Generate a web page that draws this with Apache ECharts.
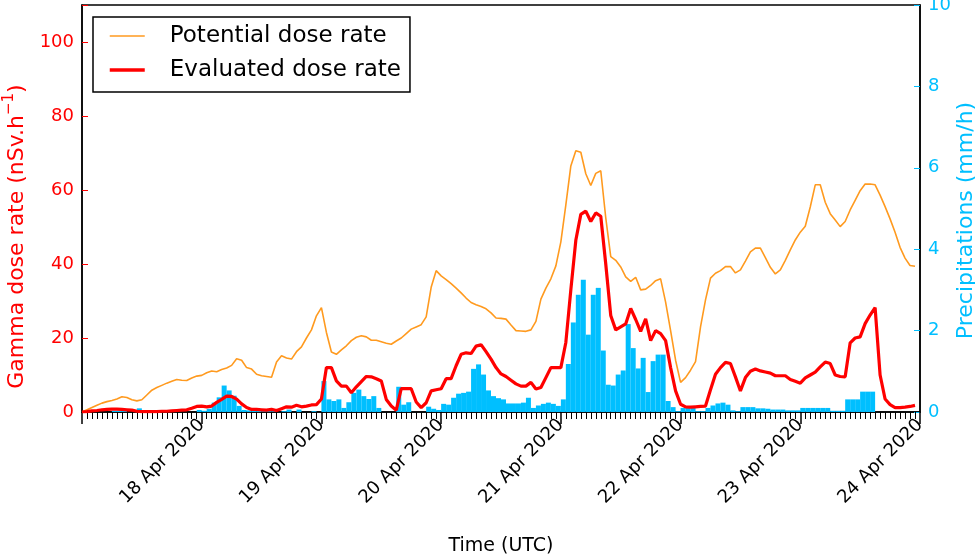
<!DOCTYPE html>
<html><head><meta charset="utf-8">
<script src="https://cdn.jsdelivr.net/npm/echarts@6/dist/echarts.min.js"></script>
<style>html,body{margin:0;padding:0;background:#fff}#c{width:975px;height:556px}</style>
</head><body><div id="c"></div>
<script>
// x ticks every 24 h starting 17 Apr 2020 00:00 UTC
const dayLabels = ['', '18 Apr 2020', '19 Apr 2020', '20 Apr 2020', '21 Apr 2020', '22 Apr 2020', '23 Apr 2020', '24 Apr 2020'];

// hourly values (nSv/h), hour 0 = 17 Apr 2020 00:00 UTC
const potential = [
  0,0.6,1.2,1.8,2.4,2.8,3.1,3.5,4.1,3.9,3.3,3.0,3.3,4.6,5.9,6.6,7.2,7.8,8.3,8.8,8.6,8.5,9.2,9.7,
  9.9,10.6,11.1,10.9,11.5,11.9,12.6,14.4,14.0,12.0,11.6,10.2,9.8,9.6,9.4,13.5,15.2,14.6,14.3,16.3,17.6,20.0,22.2,26.0,
  28.2,21.5,16.2,15.6,16.8,17.9,19.3,20.2,20.6,20.3,19.4,19.4,19.0,18.6,18.3,19.2,20.0,21.2,22.4,23.0,23.6,25.7,33.7,38.2,
  36.8,35.8,34.7,33.5,32.2,30.8,29.6,29.0,28.5,27.9,26.8,25.4,25.3,25.1,23.5,22.0,21.9,21.8,22.2,24.5,30.5,33.5,36.0,39.5,
  46.0,56.0,66.5,70.6,70.2,64.4,61.2,64.5,65.2,52.5,42.0,41.0,39.2,36.5,35.3,36.4,33.0,33.2,34.2,35.5,36.0,29.7,22.0,14.0,
  8.0,9.3,11.3,13.6,23.0,30.3,36.2,37.5,38.2,39.3,39.3,37.6,38.4,40.8,43.3,44.3,44.3,41.7,39.1,37.3,38.4,41.0,43.8,46.5,
  48.6,50.2,55.4,61.4,61.4,56.7,53.6,51.9,50.1,51.5,54.6,57.2,59.8,61.6,61.6,61.4,58.6,55.5,52.2,48.6,44.5,41.6,39.6,39.4
];
const evaluated = [
  0,0.1,0.3,0.4,0.6,0.7,0.8,0.8,0.7,0.6,0.5,0.2,0.1,0.1,0.1,0.1,0.2,0.2,0.3,0.4,0.5,0.6,1.0,1.5,
  1.6,1.4,1.6,2.6,3.4,4.3,4.2,3.5,2.2,1.2,0.7,0.7,0.6,0.5,0.7,0.4,0.9,1.4,1.3,1.8,1.4,1.6,1.9,2.0,
  3.5,12.0,12.0,8.4,7.0,7.0,5.2,6.8,8.2,9.6,9.5,9.0,8.4,3.4,1.6,0.5,6.3,6.3,6.3,2.7,1.2,2.5,5.7,6.0,
  6.3,9.0,9.0,12.5,15.6,16.0,15.8,17.8,18.2,16.3,14.3,12.0,10.3,9.6,8.6,7.6,7.0,7.0,8.0,6.2,6.6,9.3,12.0,12.0,
  12.0,18.8,33.0,46.4,53.4,54.3,51.5,53.8,52.9,40.0,26.1,22.2,23.0,23.8,28.0,25.0,21.8,25.2,19.3,22.0,21.2,19.3,12.0,5.7,
  2.1,1.4,1.3,1.4,1.5,1.6,6.0,10.2,12.0,13.4,13.1,9.5,5.7,9.3,11.0,11.6,11.1,10.8,10.5,9.8,9.8,9.8,8.8,8.3,
  7.8,9.2,10.0,10.8,12.2,13.5,13.1,10.0,9.6,9.5,18.7,20.0,20.3,23.9,26.2,28.2,10.0,3.5,2.0,1.2,1.2,1.3,1.5,1.8
];
// hourly precipitation (mm/h), bar i covers hour i to i+1
const precip = [
  0,0,0,0,0,0,0.03,0.03,0.03,0,0,0.09,0,0,0,0,0,0,0,0,0,0,0,0.05,
  0.03,0.08,0.23,0.36,0.65,0.53,0.4,0.15,0.05,0.04,0.03,0.03,0.02,0.02,0.02,0,0.02,0.06,0,0.06,0,0,0.02,0,
  0.76,0.31,0.27,0.31,0.1,0.24,0.47,0.55,0.39,0.32,0.39,0.1,0,0,0,0.62,0.18,0.24,0,0,0,0.13,0.08,0.05,
  0.2,0.18,0.35,0.45,0.47,0.5,1.06,1.17,0.92,0.53,0.39,0.34,0.31,0.21,0.21,0.21,0.23,0.35,0.1,0.16,0.2,0.23,0.2,0.15,
  0.31,1.18,2.2,2.88,3.25,1.9,2.88,3.05,1.51,0.67,0.65,0.92,1.02,2.16,1.57,1.07,1.33,0.49,1.25,1.41,1.41,0.27,0.12,0.02,
  0.1,0.1,0.1,0.02,0.02,0.1,0.16,0.21,0.23,0.18,0.04,0.02,0.12,0.12,0.12,0.09,0.09,0.08,0.06,0.06,0.06,0.04,0.04,0.04,
  0.1,0.1,0.1,0.1,0.1,0.1,0.03,0.03,0.03,0.31,0.31,0.31,0.5,0.5,0.5,0,0,0,0,0,0,0,0,0
];

const FONT = 'DejaVu Sans';
const RED = '#ff0000', ORANGE = '#ff9a1f', BLUE = '#00bfff';
const chart = echarts.init(document.getElementById('c'), null, {renderer: 'canvas'});
chart.setOption({
  animation: false,
  textStyle: {fontFamily: FONT},
  grid: {left: 82, right: 55, top: 5, bottom: 144, containLabel: false, outerBoundsMode: 'none',
    show: true, borderColor: '#000', borderWidth: 1.5, backgroundColor: 'transparent'},
  legend: {
    orient: 'vertical', left: 93, top: 17,
    data: [
      {name: 'Potential dose rate', lineStyle: {width: 1.6}},
      {name: 'Evaluated dose rate', lineStyle: {width: 3.5}}
    ],
    itemWidth: 35, itemHeight: 14, itemGap: 8,
    itemStyle: {opacity: 0},
    padding: [6, 9, 9, 15],
    borderColor: '#000', borderWidth: 1.5, borderRadius: 0, backgroundColor: '#fff',
    textStyle: {fontFamily: FONT, fontSize: 23, color: '#000', lineHeight: 26, padding: [0, 0, 0, 20]}
  },
  xAxis: {
    type: 'value', min: 0, max: 168, interval: 24,
    axisLine: {onZero: false, lineStyle: {color: '#000', width: 1.5}},
    axisTick: {length: 12, lineStyle: {color: '#000', width: 1.5}},
    minorTick: {show: true, splitNumber: 24, length: 7, lineStyle: {color: '#000', width: 1}},
    splitLine: {show: false}, minorSplitLine: {show: false},
    axisLabel: {rotate: 45, fontSize: 18, color: '#000', margin: 10, fontFamily: FONT,
      formatter: v => dayLabels[Math.round(v / 24)] || ''},
    name: 'Time (UTC)', nameLocation: 'middle', nameGap: 125, nameMoveOverlap: false,
    nameTextStyle: {fontSize: 19, color: '#000', fontFamily: FONT}
  },
  yAxis: [{
    type: 'value', min: 0, max: 110, interval: 20, position: 'left',
    axisLine: {show: true, lineStyle: {color: '#000', width: 1.5}},
    axisTick: {show: true, inside: true, length: 6, lineStyle: {color: RED, width: 1}},
    axisLabel: {color: RED, fontSize: 18, margin: 8, fontFamily: FONT, formatter: v => (v % 20 === 0 ? String(v) : '')},
    splitLine: {show: false},
    name: '{t|Gamma dose rate (nSv.h}{s|−1}{t|)}', nameLocation: 'middle', nameGap: 54, nameMoveOverlap: false,
    nameTextStyle: {color: RED, fontSize: 22, fontFamily: FONT, padding: [0, 56, 0, 0],
      rich: {
        t: {color: RED, fontSize: 22, fontFamily: FONT, lineHeight: 26, verticalAlign: 'bottom'},
        s: {color: RED, fontSize: 15, fontFamily: FONT, lineHeight: 26, verticalAlign: 'top'}
      }}
  }, {
    type: 'value', min: 0, max: 10, interval: 2, position: 'right',
    axisLine: {show: true, lineStyle: {color: '#000', width: 1.5}},
    axisTick: {show: true, inside: true, length: 6, lineStyle: {color: BLUE, width: 1}},
    axisLabel: {color: BLUE, fontSize: 18, margin: 8, fontFamily: FONT},
    splitLine: {show: false},
    name: 'Precipitations (mm/h)', nameLocation: 'middle', nameGap: 35, nameMoveOverlap: false,
    nameTextStyle: {color: BLUE, fontSize: 22, fontFamily: FONT, padding: [0, 24, 0, 0]}
  }],
  series: [{
    type: 'bar', name: 'Precipitations', yAxisIndex: 1, silent: true,
    data: precip.map((v, i) => [i + 0.5, v]),
    barWidth: 5, itemStyle: {color: BLUE}, z: 1
  }, {
    type: 'line', name: 'Potential dose rate', yAxisIndex: 0,
    data: potential.map((v, i) => [i, v]),
    symbol: 'none', lineStyle: {color: ORANGE, width: 1.6}, itemStyle: {color: ORANGE}, z: 2
  }, {
    type: 'line', name: 'Evaluated dose rate', yAxisIndex: 0,
    data: evaluated.map((v, i) => [i, v]),
    symbol: 'none', lineStyle: {color: RED, width: 3.2}, itemStyle: {color: RED}, z: 3
  }]
});
</script></body></html>
